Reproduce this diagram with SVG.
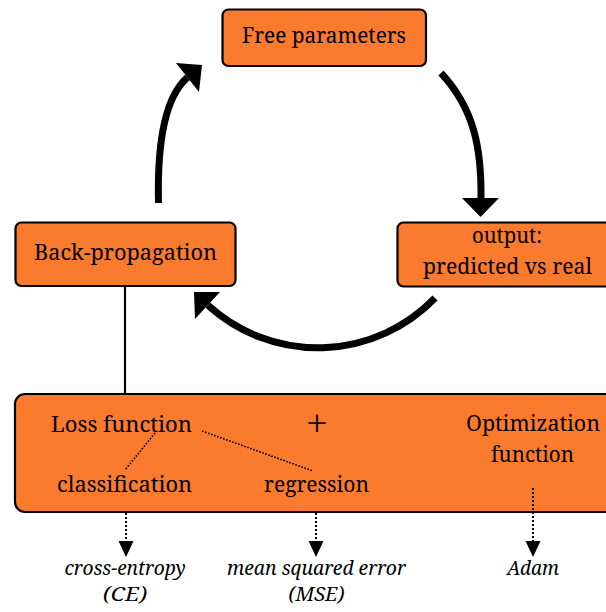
<svg xmlns="http://www.w3.org/2000/svg" width="606" height="612" viewBox="0 0 606 612">
<style>
.box{fill:#FA7B2D;stroke:#000;stroke-width:2.2}
.t{font-family:"Noto Serif","DejaVu Serif",serif;font-size:22px;fill:#000;text-anchor:middle}
.it{font-family:"Noto Serif","DejaVu Serif",serif;font-size:19.5px;font-style:italic;fill:#000;text-anchor:middle}
.arc{fill:none;stroke:#000;stroke-width:7}
.head{fill:#000}
.dot{fill:none;stroke:#000;stroke-width:1.6;stroke-dasharray:1.6 1.6}
.vdot{fill:none;stroke:#000;stroke-width:2;stroke-dasharray:2 2}
.solid{fill:none;stroke:#000;stroke-width:2.2}
</style>
<rect width="606" height="612" fill="#fff"/>
<g id="free-parameters">
<rect class="box" x="222.5" y="9.5" width="203.5" height="56.5" rx="6"/>
<text class="t" x="324" y="43" textLength="164" lengthAdjust="spacingAndGlyphs">Free parameters</text>
</g>
<g id="back-propagation">
<rect class="box" x="15.5" y="222.5" width="220" height="63.5" rx="6"/>
<text class="t" x="125.5" y="260" textLength="183" lengthAdjust="spacingAndGlyphs">Back-propagation</text>
</g>
<g id="output">
<rect class="box" x="397.5" y="222.5" width="222" height="64" rx="6"/>
<text class="t" x="507" y="243" textLength="70" lengthAdjust="spacingAndGlyphs">output:</text>
<text class="t" x="507.5" y="274" textLength="169" lengthAdjust="spacingAndGlyphs">predicted vs real</text>
</g>
<g id="loss-optimization">
<rect class="box" x="15" y="394" width="612" height="118" rx="10"/>
<text class="t" x="121.5" y="432" textLength="141" lengthAdjust="spacingAndGlyphs">Loss function</text>
<text class="t" x="317" y="438" style="font-size:40px;font-weight:300">+</text>
<text class="t" x="124.5" y="492" textLength="135" lengthAdjust="spacingAndGlyphs">classification</text>
<text class="t" x="316.5" y="492" textLength="105" lengthAdjust="spacingAndGlyphs">regression</text>
<text class="t" x="533" y="431" textLength="134" lengthAdjust="spacingAndGlyphs">Optimization</text>
<text class="t" x="532.5" y="462" textLength="83" lengthAdjust="spacingAndGlyphs">function</text>
</g>
<g id="cross-entropy">
<text class="it" x="125" y="575" textLength="121" lengthAdjust="spacingAndGlyphs">cross-entropy</text>
<text class="it" x="125" y="601" textLength="44" lengthAdjust="spacingAndGlyphs">(CE)</text>
</g>
<g id="mse">
<text class="it" x="316.5" y="575" textLength="179" lengthAdjust="spacingAndGlyphs">mean squared error</text>
<text class="it" x="316.5" y="601" textLength="56" lengthAdjust="spacingAndGlyphs">(MSE)</text>
</g>
<g id="adam">
<text class="it" x="533" y="575" textLength="52" lengthAdjust="spacingAndGlyphs">Adam</text>
</g>
<g id="connectors">
<path class="solid" d="M125 287 V393"/>
<path class="arc" d="M158.5 203 C157.5 160 160 101 187.5 77.5"/>
<polygon class="head" points="176,63 202,65 199,92"/>
<path class="arc" d="M441 73 C475 109.5 481.5 150 481 198"/>
<polygon class="head" points="462,198 499,198 480.5,217"/>
<path class="arc" d="M435 298 A163 163 0 0 1 207.8 305.2"/>
<polygon class="head" points="220,292 195,319 194,292"/>
<path class="dot" d="M155 433 L125 470"/>
<path class="dot" d="M202 431 L313 471"/>
<path class="vdot" d="M126 513 V542"/>
<polygon class="head" points="118.5,541 133.5,541 126,557"/>
<path class="vdot" d="M316 513 V542"/>
<polygon class="head" points="308.5,541 323.5,541 316,557"/>
<path class="vdot" d="M533 488 V542"/>
<polygon class="head" points="525.5,541 540.5,541 533,557"/>
</g>
</svg>
